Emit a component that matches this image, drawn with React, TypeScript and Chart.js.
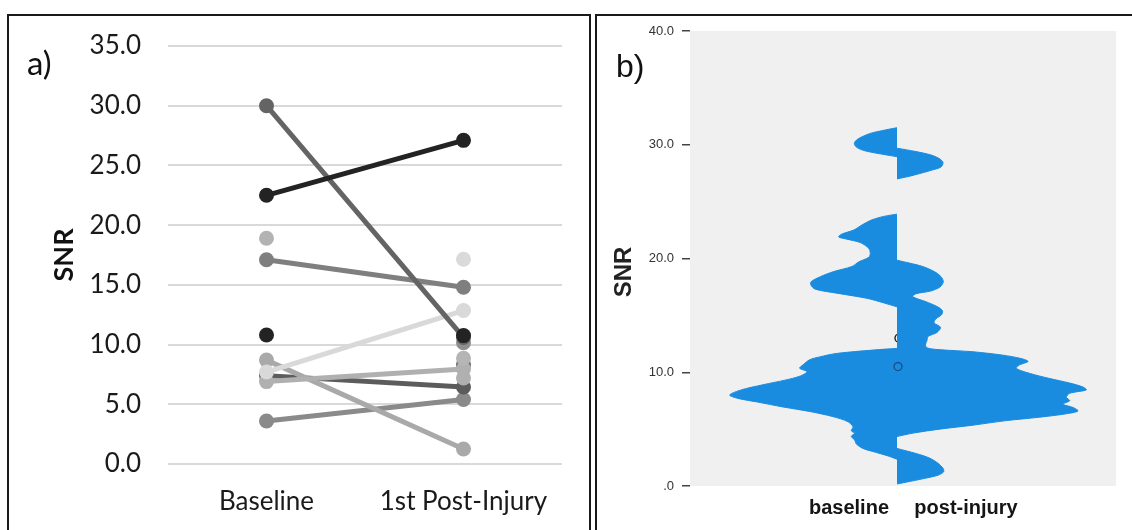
import React, { useEffect, useRef } from 'react';
import { Chart, registerables } from 'chart.js';

Chart.register(...registerables);

// ---------------- Panel a: paired SNR per subject ----------------
const categories = ['Baseline', '1st Post-Injury'];
// one entry per subject (null = missing session); index 0 is drawn on top
const baselineSNR: (number | null)[] = [22.5, 10.8, null, 30.0, 17.1, null, null, 7.7, 6.9, 8.7, 7.4, null, null, 3.6, 18.9, null];
const postInjurySNR: (number | null)[] = [27.1, null, 10.75, 10.6, 14.8, 8.85, 7.2, 12.85, 7.95, 1.25, 6.45, 8.3, 10.15, 5.4, null, 17.15];
const subjectShades = ['#232323', '#232323', '#232323', '#646464', '#7f7f7f', '#b5b5b5', '#b0b0b0', '#d9d9d9', '#b0b0b0', '#a9a9a9', '#5c5c5c', '#6e6e6e', '#8f8f8f', '#8a8a8a', '#b3b3b3', '#dadada'];

// ---------------- Panel b: split violin (SNR, density) ----------------
const violinCategories = ['baseline', 'post-injury'];
const baselineDensityUpper: [number, number][] = [[31.5, 0], [31.3, 11.7], [31.0, 26.7], [30.7, 35], [30.4, 40.7], [30.1, 42.7], [29.8, 40.7], [29.5, 33.3], [29.25, 20], [28.95, 0]];
const baselineDensityMiddle: [number, number][] = [[23.9, 0], [23.7, 13.3], [23.4, 25], [22.95, 35], [22.5, 43.3], [22.15, 55], [21.9, 58.3], [21.7, 50], [21.4, 36.7], [20.9, 28.3], [20.45, 26.7], [20.1, 28.3], [19.7, 38.3], [19.3, 45], [18.85, 63.3], [18.4, 76.7], [17.95, 86], [17.65, 86], [17.3, 81.7], [16.95, 60], [16.5, 30], [16.1, 13.3], [15.75, 0]];
const baselineDensityLower: [number, number][] = [[12.1, 0], [11.95, 24], [11.65, 60.7], [11.35, 77.3], [11.1, 87.3], [10.65, 94], [10.35, 97.3], [10.05, 90], [9.65, 97.3], [9.3, 112.3], [8.9, 134], [8.45, 155.7], [8.0, 167.3], [7.7, 159], [7.4, 140.7], [6.95, 114], [6.55, 87.3], [6.1, 64], [5.65, 49], [5.2, 44], [4.85, 45.7], [4.65, 42.3], [4.35, 45.7], [4.05, 42.3], [3.7, 40.7], [3.3, 34], [2.95, 20.7], [2.6, 7.3], [2.35, 0]];
const postDensityUpper: [number, number][] = [[29.7, 0], [29.4, 19], [29.1, 34], [28.8, 42], [28.45, 46], [28.05, 44], [27.8, 36], [27.5, 24], [27.2, 11], [27.0, 0]];
const postDensityMiddle: [number, number][] = [[19.85, 0], [19.6, 12.3], [19.3, 25.7], [18.85, 37.3], [18.4, 44], [17.95, 46.3], [17.5, 43], [17.15, 34], [16.9, 19], [16.65, 15.7], [16.2, 29], [15.75, 40.7], [15.4, 45.5], [15.05, 44.5], [14.7, 39], [14.35, 37], [13.95, 43.5], [13.5, 40], [13.15, 31], [12.8, 30], [12.4, 28.5], [12.15, 30], [12.0, 40], [11.8, 76], [11.5, 106], [11.2, 124.3], [10.95, 131], [10.65, 122.7], [10.35, 119.3], [9.9, 132.7], [9.45, 152.7], [9.05, 172.7], [8.7, 186], [8.45, 189.3], [8.15, 172.7], [7.8, 169.3], [7.5, 172.7], [7.2, 166], [6.9, 176], [6.6, 181], [6.35, 169.3], [6.05, 142.7], [5.75, 109.3], [5.35, 76], [5.0, 42.7], [4.65, 16], [4.35, 0]];
const postDensityLower: [number, number][] = [[3.3, 0], [2.85, 19.3], [2.45, 32.7], [2.0, 41], [1.55, 46], [1.25, 46.7], [0.95, 41], [0.7, 29.3], [0.4, 12.7], [0.18, 0]];
const outlierSNR = [13.0, 10.5];

const VIOLIN_BLUE = '#1a8ce0';

const plotBackground = {
  id: 'plotBackground',
  beforeDraw(chart: any) {
    const { ctx, chartArea } = chart;
    if (!chartArea) return;
    ctx.save();
    ctx.fillStyle = '#f0f0f0';
    ctx.fillRect(chartArea.left, chartArea.top, chartArea.right - chartArea.left, chartArea.bottom - chartArea.top);
    ctx.restore();
  },
};

function lobe(points: [number, number][], side: number) {
  const data = points
    .map(([snr, d]) => ({ x: side * d, y: snr }))
    .sort((a, b) => a.y - b.y);
  return {
    data,
    borderColor: VIOLIN_BLUE,
    backgroundColor: VIOLIN_BLUE,
    borderWidth: 1,
    fill: 'origin',
    pointRadius: 0,
    tension: 0.3,
    order: 1,
  };
}

export default function App() {
  const refA = useRef<HTMLCanvasElement>(null);
  const refB = useRef<HTMLCanvasElement>(null);

  useEffect(() => {
    const chartA = new Chart(refA.current as HTMLCanvasElement, {
      type: 'line',
      data: {
        labels: categories,
        datasets: subjectShades.map((c, i) => ({
          data: [baselineSNR[i], postInjurySNR[i]],
          borderColor: c,
          backgroundColor: c,
          pointBackgroundColor: c,
          borderWidth: 5,
          pointRadius: 7.5,
          pointHoverRadius: 7.5,
          pointBorderWidth: 0,
          spanGaps: false,
          tension: 0,
          fill: false,
          clip: false,
        })) as any,
      },
      options: {
        animation: false,
        responsive: false,
        layout: { padding: { top: 46, right: 29, left: 0, bottom: 0 } },
        plugins: { legend: { display: false }, tooltip: { enabled: false } },
        scales: {
          x: {
            offset: true,
            grid: { display: false, drawTicks: false },
            border: { display: false },
            ticks: { padding: 22, color: '#1a1a1a', font: { family: 'Lato', size: 26 } },
            afterFit: (s: any) => { s.height = 66; },
          },
          y: {
            min: 0,
            max: 35,
            ticks: {
              stepSize: 5,
              padding: 27,
              color: '#1a1a1a',
              font: { family: 'Lato', size: 26 },
              callback: (v: any) => Number(v).toFixed(1),
            },
            grid: { color: '#d9d9d9', lineWidth: 2, drawTicks: false },
            border: { display: false },
            title: {
              display: true,
              text: 'SNR',
              color: '#111',
              font: { family: 'Lato', size: 27, weight: 'bold' },
              padding: { top: 48, bottom: 0 },
            },
            afterFit: (s: any) => { s.width = 168; },
          },
        },
      } as any,
    });

    const chartB = new Chart(refB.current as HTMLCanvasElement, {
      type: 'line',
      data: {
        datasets: [
          {
            data: [{ x: 2, y: outlierSNR[0] }],
            showLine: false,
            pointRadius: 4,
            pointBorderWidth: 1.3,
            pointBorderColor: '#111',
            pointBackgroundColor: 'rgba(0,0,0,0)',
            order: 5,
          },
          lobe(baselineDensityUpper, -1),
          lobe(baselineDensityMiddle, -1),
          lobe(baselineDensityLower, -1),
          lobe(postDensityUpper, 1),
          lobe(postDensityMiddle, 1),
          lobe(postDensityLower, 1),
          {
            data: [{ x: 1, y: outlierSNR[1] }],
            showLine: false,
            pointRadius: 4,
            pointBorderWidth: 1.3,
            pointBorderColor: '#1c4a80',
            pointBackgroundColor: 'rgba(0,0,0,0)',
            order: 0,
          },
        ] as any,
      },
      options: {
        animation: false,
        responsive: false,
        indexAxis: 'y',
        layout: { padding: { top: 31, right: 16, left: 0, bottom: 0 } },
        plugins: { legend: { display: false }, tooltip: { enabled: false } },
        scales: {
          x: {
            type: 'linear',
            min: -207,
            max: 219,
            grid: { display: false, drawTicks: false },
            border: { display: false },
            afterBuildTicks: (s: any) => { s.ticks = [{ value: -48 }, { value: 69 }]; },
            ticks: {
              autoSkip: false,
              maxRotation: 0,
              padding: 10,
              color: '#151515',
              font: { family: 'Liberation Sans', size: 20, weight: 'bold' },
              callback: (_v: any, i: number) => violinCategories[i],
            },
            afterFit: (s: any) => { s.height = 44; },
          },
          y: {
            type: 'linear',
            min: 0,
            max: 40,
            ticks: {
              stepSize: 10,
              padding: 8,
              color: '#333',
              font: { family: 'Liberation Sans', size: 13 },
              callback: (v: any) => (Number(v) === 0 ? '.0' : Number(v).toFixed(1)),
            },
            grid: { drawOnChartArea: false, drawTicks: true, tickLength: 8, color: '#444', lineWidth: 1.5 },
            border: { display: false },
            afterFit: (s: any) => { s.width = 93; },
          },
        },
      } as any,
      plugins: [plotBackground],
    });

    return () => {
      chartA.destroy();
      chartB.destroy();
    };
  }, []);

  return (
    <div style={{ position: 'fixed', left: 0, top: 0, width: 1132, height: 530, overflow: 'hidden', background: '#fff' }}>
      <div style={{ position: 'absolute', left: 7, top: 14, width: 584, height: 600, border: '2px solid #1a1a1a', boxSizing: 'border-box' }} />
      <div style={{ position: 'absolute', left: 595, top: 14, width: 600, height: 600, border: '2px solid #1a1a1a', boxSizing: 'border-box' }} />
      <canvas ref={refA} width={591} height={530} style={{ position: 'absolute', left: 0, top: 0 }} />
      <canvas ref={refB} width={535} height={530} style={{ position: 'absolute', left: 597, top: 0 }} />
      <div style={{ position: 'absolute', left: 27, top: 46, font: '33px Lato', lineHeight: '33px', color: '#111' }}>a)</div>
      <div style={{ position: 'absolute', left: 616, top: 50, font: '32px "Liberation Sans"', lineHeight: '32px', color: '#111' }}>b)</div>
      <div
        style={{
          position: 'absolute',
          left: 623,
          top: 272,
          transform: 'translate(-50%, -50%) rotate(-90deg)',
          font: 'bold 24px "Liberation Sans"',
          lineHeight: '24px',
          color: '#222',
          whiteSpace: 'nowrap',
        }}
      >
        SNR
      </div>
    </div>
  );
}
